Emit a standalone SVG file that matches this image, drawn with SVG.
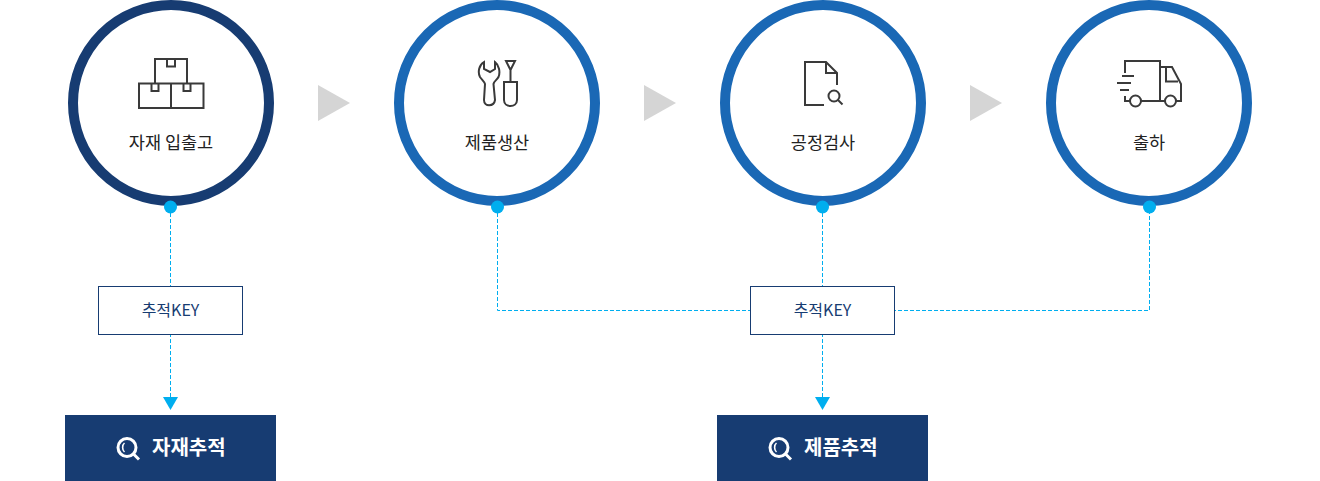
<svg xmlns="http://www.w3.org/2000/svg" width="1320" height="481" viewBox="0 0 1320 481">
<style>
.ring{fill:#fff;stroke-width:10}
.navy{stroke:#173c72}
.blue{stroke:#1a68b5}
.ico{fill:none;stroke:#3a3a3a;stroke-width:2}
.lbl{font-family:"Noto Sans CJK KR","Noto Sans",sans-serif;font-size:17.500px;fill:#222;text-anchor:middle}
.key{font-family:"Noto Sans CJK KR","Noto Sans",sans-serif;font-size:16px;fill:#173c72;text-anchor:middle}
.btn{font-family:"Noto Sans CJK KR","Noto Sans",sans-serif;font-size:20px;font-weight:700;fill:#fff}
.dot{fill:#00aeef}
.tri{fill:#d5d5d5}
.dash{fill:none;stroke:#00aeef;stroke-width:1;stroke-dasharray:4 2}
.box{fill:#fff;stroke:#173c72;stroke-width:1}
.mag{fill:none;stroke:#fff;stroke-width:3}
.shine{fill:none;stroke:#fff;stroke-width:1.600}
</style>
<g id="connectors">
<path class="dash" d="M170.500 207V399"/>
<path class="dash" d="M497.500 207V310.500H1149.500V207"/>
<path class="dash" d="M822.500 207V399"/>
<path class="dot" d="M163 397H178L170.500 410Z"/>
<path class="dot" d="M815 397H830L822.500 410Z"/>
</g>
<g id="arrows">
<path class="tri" d="M318 85L350 103L318 121Z"/>
<path class="tri" d="M644 85L676 103L644 121Z"/>
<path class="tri" d="M970 85L1002 103L970 121Z"/>
</g>
<g id="node-material">
<circle class="ring navy" cx="171" cy="103" r="98"/>
<circle class="dot" cx="170.500" cy="207" r="6.500"/>
<path class="ico" d="M155 59H187V83.500H155ZM167 59V66.500H175V59M139 83.500H171V108H139ZM171 83.500H203.500V108H171ZM151.500 83.500V91H158.500V83.500M183.500 83.500V91H190.500V83.500"/>
<text class="lbl" x="171" y="149">자재 입출고</text>
</g>
<g id="node-production">
<circle class="ring blue" cx="497" cy="103" r="98"/>
<circle class="dot" cx="497.500" cy="207" r="6.500"/>
<path class="ico" d="M484 62C479 65 477.500 72 480 77C482 80 484 81 485 84L484 100C484 107 494 107 495 100L493.500 84C494 81 497 80 498.500 77C500.500 72 499 65 495 62V69L490 72L484 69ZM506 61H515L510.500 70ZM510.500 70V82M504 82H517V100C517 108 504 108 504 100Z"/>
<text class="lbl" x="497" y="149">제품생산</text>
</g>
<g id="node-inspection">
<circle class="ring blue" cx="823" cy="103" r="98"/>
<circle class="dot" cx="822.500" cy="207" r="6.500"/>
<path class="ico" d="M824 105H805V62H826L837 73V85M826 62V73H837"/>
<circle class="ico" cx="834" cy="96" r="5.500"/>
<path class="ico" d="M838 100L842.500 104.500"/>
<text class="lbl" x="823" y="149">공정검사</text>
</g>
<g id="node-shipping">
<circle class="ring blue" cx="1149" cy="103" r="98"/>
<circle class="dot" cx="1149.500" cy="207" r="6.500"/>
<path class="ico" d="M1125 73V61H1160V101H1141M1130 101H1125V96M1160 67H1172L1181 84V101H1176M1165 101H1160M1166 67V81.500H1178M1122 76H1134M1117 83H1131M1120 90H1129"/>
<circle class="ico" cx="1135.500" cy="101" r="5.500"/>
<circle class="ico" cx="1170.500" cy="101" r="5.500"/>
<text class="lbl" x="1149" y="149">출하</text>
</g>
<g id="key-material">
<rect class="box" x="98.500" y="286.500" width="144" height="48"/>
<text class="key" x="170.500" y="316">추적KEY</text>
</g>
<g id="key-product">
<rect class="box" x="750.500" y="286.500" width="144" height="48"/>
<text class="key" x="822.500" y="316">추적KEY</text>
</g>
<g id="btn-material">
<rect x="65" y="415" width="211" height="66" fill="#173c72"/>
<circle class="mag" cx="127" cy="447.500" r="9"/>
<path class="mag" d="M133.500 454L139 459.500"/>
<path class="shine" d="M124.500 443C122 445 122 450 124.500 452"/>
<text class="btn" x="152" y="455">자재추적</text>
</g>
<g id="btn-product">
<rect x="717" y="415" width="211" height="66" fill="#173c72"/>
<circle class="mag" cx="779" cy="447.500" r="9"/>
<path class="mag" d="M785.500 454L791 459.500"/>
<path class="shine" d="M776.500 443C774 445 774 450 776.500 452"/>
<text class="btn" x="804" y="455">제품추적</text>
</g>
</svg>
